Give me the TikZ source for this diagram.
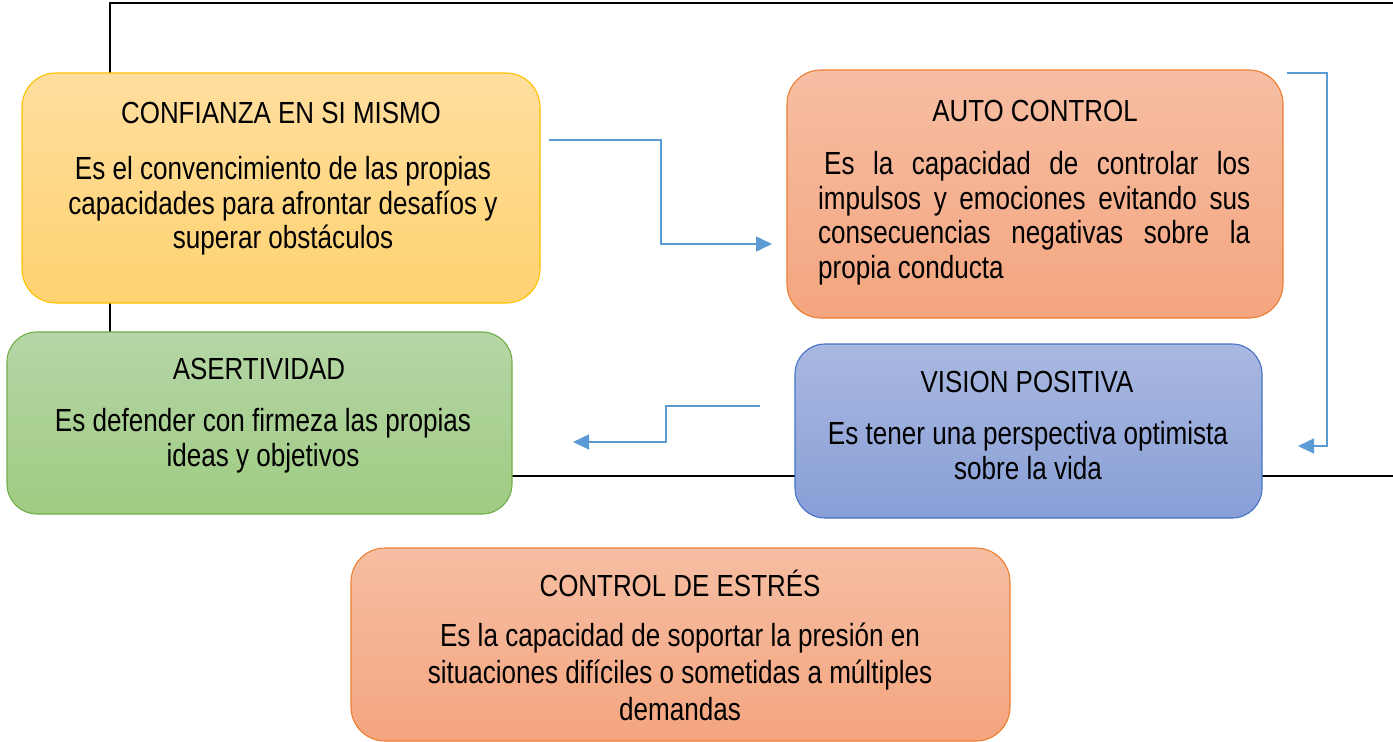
\documentclass[tikz,border=0pt]{standalone}
\usepackage{fontspec}
\setmainfont{Liberation Sans}[FakeStretch=0.85]
\newfontfamily\bodyfont{Liberation Sans}[FakeStretch=0.815]
\usetikzlibrary{arrows.meta}
\definecolor{arrblue}{HTML}{5B9BD5}
\definecolor{yelT}{HTML}{FFDE9E}\definecolor{yelB}{HTML}{FFD271}\definecolor{yelD}{HTML}{FFC000}
\definecolor{salT}{HTML}{F6BEA3}\definecolor{salB}{HTML}{F4A57F}\definecolor{salD}{HTML}{ED7D31}
\definecolor{grnT}{HTML}{B5D6A6}\definecolor{grnB}{HTML}{9FCB82}\definecolor{grnD}{HTML}{70AD47}
\definecolor{bluT}{HTML}{A9B8E0}\definecolor{bluB}{HTML}{889FD6}\definecolor{bluD}{HTML}{4472C4}
\tikzset{
  card/.style={rounded corners=34pt, line width=1.1pt, inner sep=0pt},
  ttl/.style={anchor=base, inner sep=0pt, font=\fontsize{30.5}{34}\selectfont},
  bdy/.style={anchor=north, inner sep=0pt, align=center, font=\bodyfont\fontsize{32}{34.5}\selectfont},
  arr/.style={draw=arrblue, line width=1.5pt, -{Triangle[length=16pt,width=15pt]}},
  frame/.style={line width=2.2pt, black}
}
\begin{document}
\begin{tikzpicture}[x=1pt,y=-1pt]
\useasboundingbox (0,0) rectangle (1393,742);
% frame behind boxes
\draw[frame] (1400,3) -- (110,3) -- (110,476) -- (1400,476);
% boxes
\node[card, draw=yelD, top color=yelT, bottom color=yelB, minimum width=518pt, minimum height=230pt] (conf) at (281,188) {};
\node[card, draw=salD, top color=salT, bottom color=salB, minimum width=496pt, minimum height=248pt] (auto) at (1035,194) {};
\node[card, rounded corners=30pt, draw=grnD, top color=grnT, bottom color=grnB, minimum width=505pt, minimum height=182pt] (aser) at (259.5,423) {};
\node[card, rounded corners=30pt, draw=bluD, top color=bluT, bottom color=bluB, minimum width=467pt, minimum height=174pt] (vis) at (1028.5,431) {};
\node[card, draw=salD, top color=salT, bottom color=salB, minimum width=659pt, minimum height=193pt] (estr) at (680.5,644.5) {};
% texts
\node[ttl] (confT) at (281,123.5) {CONFIANZA EN SI MISMO};
\node[bdy] (confB) at (283,156.5) {Es el convencimiento de las propias\\capacidades para afrontar desafíos y\\superar obstáculos};
\node[ttl] (autoT) at (1035,121) {AUTO CONTROL};
\node[bdy, anchor=north west, text width=432pt, align=justify] (autoB) at (818,151.5)
  {\hspace*{6pt}Es la capacidad de controlar los\linebreak impulsos y emociones evitando sus\linebreak consecuencias negativas sobre la\linebreak propia conducta};
\node[ttl] (aserT) at (259,379) {ASERTIVIDAD};
\node[bdy] (aserB) at (263,408.5) {Es defender con firmeza las propias\\ideas y objetivos};
\node[ttl] (visT) at (1027,392) {VISION POSITIVA};
\node[bdy] (visB) at (1028,421.5) {Es tener una perspectiva optimista\\sobre la vida};
\node[ttl] (estrT) at (680,596) {CONTROL DE ESTRÉS};
\node[bdy, font=\bodyfont\fontsize{32}{37}\selectfont] (estrB) at (680,623) {Es la capacidad de soportar la presión en\\situaciones difíciles o sometidas a múltiples\\demandas};
% arrows
\coordinate (a1s) at (549,140);
\coordinate (a1e) at (772,244);
\draw[arr] (a1s) -- (661,140) -- (661,244) -- (a1e);
\coordinate (a2s) at (1287,73);
\coordinate (a2e) at (1298,446);
\draw[arr] (a2s) -- (1327,73) -- (1327,446) -- (a2e);
\coordinate (a3s) at (760,406);
\coordinate (a3e) at (573,442);
\draw[arr] (a3s) -- (666,406) -- (666,442) -- (a3e);
\end{tikzpicture}
\end{document}
